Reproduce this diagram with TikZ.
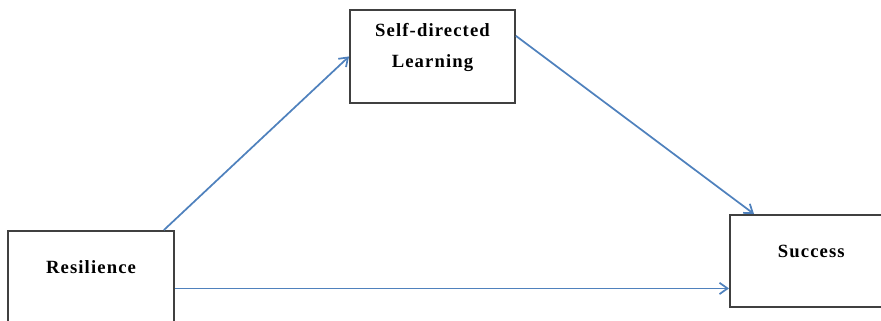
\documentclass[tikz,border=0pt]{standalone}
\usepackage{fontspec}
\setmainfont{Liberation Serif}
\newfontfamily\boxfont[LetterSpace=6]{Liberation Serif}
\usetikzlibrary{calc, arrows.meta}
\definecolor{wordblue}{RGB}{79,129,189}

\begin{document}
\begin{tikzpicture}[x=0.75pt,y=-0.75pt,
    varbox/.style={draw=black!75,line width=1.4pt,inner sep=0pt,align=center,
      font=\boxfont\bfseries\fontsize{14}{23.25}\selectfont},
    link/.style={draw=wordblue,line width=1.3pt,-{Straight Barb[length=6pt,width=8.5pt]}}]
      \useasboundingbox (0,0) rectangle (881,321);
      \clip (0,0) rectangle (881,321);

      \node at (91,230) [varbox,anchor=north,minimum width=124.5pt,text height=32.25pt,text depth=54pt] (res) {Resilience};
      \node at (432.5,9) [varbox,anchor=north,minimum width=123.75pt,text height=43.5pt,text depth=26.25pt] (sdl) {Self-directed\\Learning};
      \node at (729,214) [varbox,anchor=north west,minimum width=122pt,text height=32.25pt,text depth=36.75pt] (succ) {Success};

      \draw[link] ([xshift=-8.25pt]res.north east) -- (sdl.west);
      \draw[link] ([yshift=15.4pt]sdl.east) -- ([xshift=18.75pt]succ.north west);
      \draw[link] (res.east) -- (res.east -| succ.west);
    \end{tikzpicture}
\end{document}
